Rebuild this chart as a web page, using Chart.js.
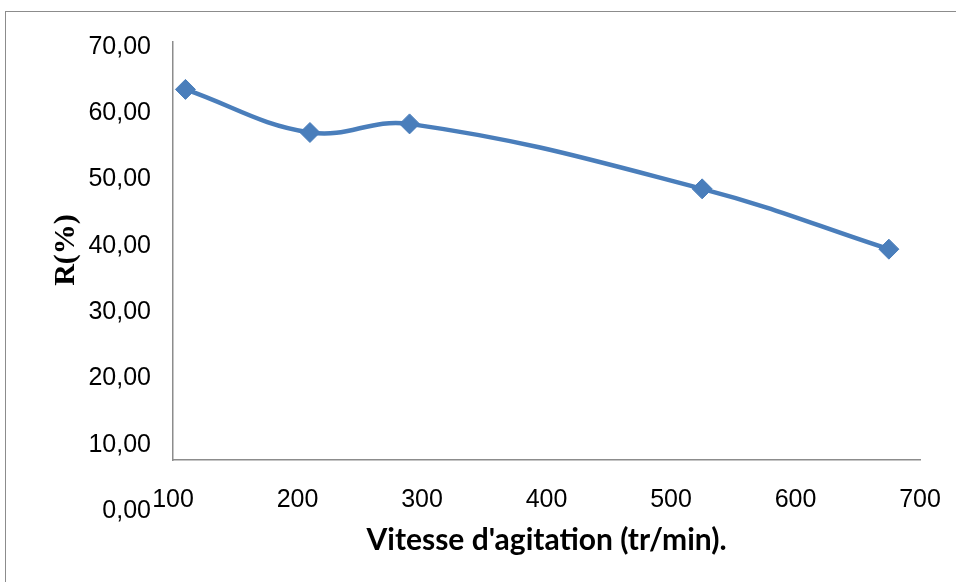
<!DOCTYPE html>
<html>
<head>
<meta charset="utf-8">
<script src="https://cdn.jsdelivr.net/npm/chart.js@4/dist/chart.umd.min.js"></script>
<style>
  html, body { margin: 0; padding: 0; background: #fff; }
  #wrap { position: relative; width: 956px; height: 582px; }
  #frame { position: absolute; left: 5px; top: 11px; right: 0; bottom: 0;
           border-top: 1px solid #8c8c8c; border-left: 1px solid #8c8c8c; pointer-events: none; }
</style>
</head>
<body>
<div id="wrap">
  <canvas id="c" width="956" height="582"></canvas>
  <div id="frame"></div>
</div>
<script>
// vitesse d'agitation (tr/min)
var vitesse = [110, 210, 290, 525, 675];
// rendement R(%)
var rendement = [63.6, 57.1, 58.4, 48.6, 39.5];
// graduations
var yTicks = [0, 10, 20, 30, 40, 50, 60, 70];
var xTicks = [100, 200, 300, 400, 500, 600, 700];

var points = vitesse.map(function (v, i) { return { x: v, y: rendement[i] }; });

// titre de l'axe Y (R(%)) dessiné à part pour le placer comme dans Excel
var yTitle = {
  id: 'yTitle',
  afterDraw: function (chart) {
    var ctx = chart.ctx;
    ctx.save();
    ctx.translate(66, 250);
    ctx.rotate(-Math.PI / 2);
    ctx.font = 'bold 30px "Liberation Serif"';
    ctx.fillStyle = '#000';
    ctx.textAlign = 'center';
    ctx.textBaseline = 'middle';
    ctx.fillText('R(%)', 0, 0);
    ctx.restore();
  }
};

new Chart(document.getElementById('c'), {
  type: 'line',
  data: {
    datasets: [{
      data: points,
      borderColor: '#4a7ebb',
      backgroundColor: '#4a7ebb',
      borderWidth: 4.5,
      tension: 0.4,
      pointStyle: 'rectRot',
      pointRadius: 10,
      pointHoverRadius: 10,
      pointBorderWidth: 1,
      pointBorderColor: '#4a7ebb',
      pointBackgroundColor: '#4a7ebb'
    }]
  },
  options: {
    responsive: false,
    animation: false,
    layout: { padding: { left: 0, top: 42, right: 36, bottom: 0 } },
    plugins: { legend: { display: false }, tooltip: { enabled: false } },
    scales: {
      x: {
        type: 'linear',
        min: 100,
        max: 700,
        grid: { display: false, drawTicks: false },
        border: { display: true, color: '#8c8c8c', width: 1.5 },
        afterBuildTicks: function (s) { s.ticks = xTicks.map(function (v) { return { value: v }; }); },
        afterFit: function (s) { s.height = 122; s.paddingRight = 0; s.paddingLeft = 0; },
        ticks: {
          padding: 25,
          color: '#000',
          font: { family: '"Liberation Sans"', size: 25 }
        },
        title: {
          display: true,
          text: "Vitesse d'agitation (tr/min).",
          color: '#000',
          font: { family: 'Lato', size: 30, weight: 'bold' },
          padding: { top: 4, bottom: 24 }
        }
      },
      y: {
        type: 'linear',
        min: 7.7,
        max: 70.75,
        grid: { display: false, drawTicks: false },
        border: { display: true, color: '#8c8c8c', width: 1.5 },
        afterBuildTicks: function (s) { s.ticks = yTicks.map(function (v) { return { value: v }; }); },
        afterFit: function (s) { s.width = 173; },
        ticks: {
          autoSkip: false,
          padding: 22,
          color: '#000',
          font: { family: '"Liberation Sans"', size: 25 },
          callback: function (v) { return v.toFixed(2).replace('.', ','); }
        }
      }
    }
  },
  plugins: [yTitle]
});
</script>
</body>
</html>
